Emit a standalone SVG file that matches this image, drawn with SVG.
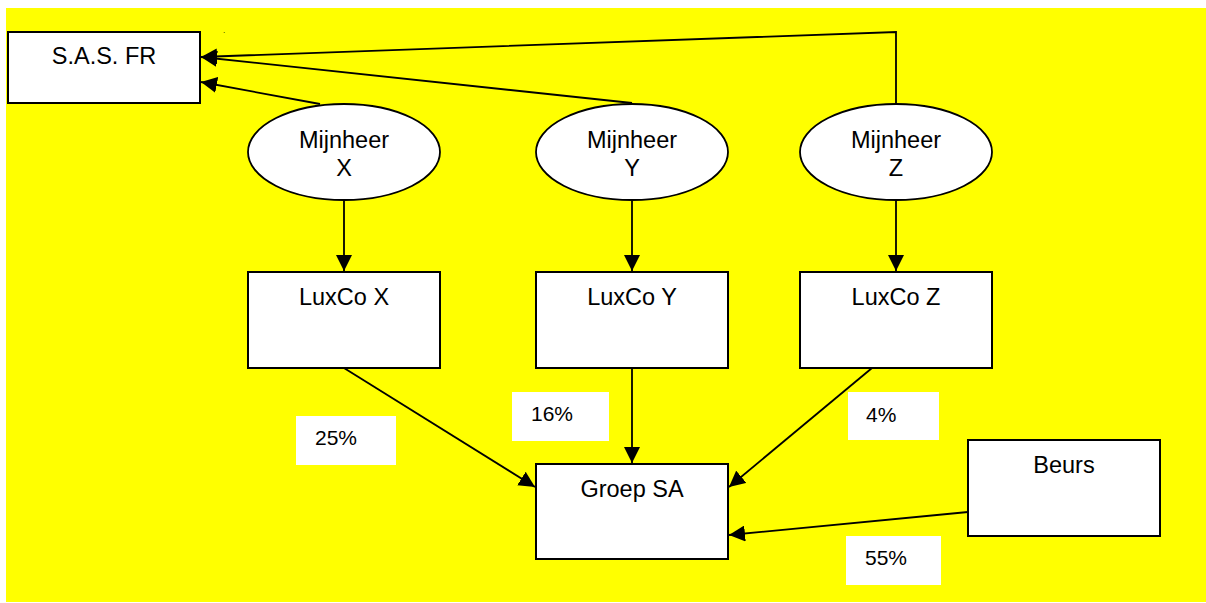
<svg xmlns="http://www.w3.org/2000/svg" width="1206" height="603" viewBox="0 0 1206 603">
  <style>
    .box { fill: #ffffff; stroke: #000000; stroke-width: 2; }
    .oval { fill: #ffffff; stroke: #000000; stroke-width: 1.8; }
    .lbl { font-family: "Liberation Sans", Arial, sans-serif; font-size: 23.5px; fill: #000000; text-anchor: middle; }
    .pct { font-family: "Liberation Sans", Arial, sans-serif; font-size: 21px; fill: #000000; }
    .pctbox { fill: #ffffff; stroke: none; }
    .link { fill: none; stroke: #000000; stroke-width: 1.8; marker-end: url(#arrow); }
  </style>
  <defs>
    <marker id="arrow" markerUnits="userSpaceOnUse" markerWidth="17" markerHeight="16" refX="16" refY="8" orient="auto">
      <path d="M0,0 L16,8 L0,16 Z" fill="#000000"/>
    </marker>
  </defs>

  <!-- page background -->
  <rect x="6" y="8" width="1200" height="594" fill="#ffff00"/>
  <text x="223" y="33" font-family="Liberation Sans, sans-serif" font-size="8" fill="#000000">.</text>

  <!-- connectors -->
  <g id="connectors">
    <path class="link" d="M320,104 L201,82"/>
    <path class="link" d="M632,103 L201,57"/>
    <path class="link" d="M896,103 L896,32 L201,57"/>
    <path class="link" d="M344,200 L344,271"/>
    <path class="link" d="M632,200 L632,271"/>
    <path class="link" d="M896,200 L896,271"/>
    <path class="link" d="M344,368 L535,487"/>
    <path class="link" d="M632,368 L632,463"/>
    <path class="link" d="M872,368 L729,487"/>
    <path class="link" d="M968,512 L729,535"/>
  </g>

  <g id="sas-fr">
    <rect class="box" x="8" y="32" width="192" height="71"/>
    <text class="lbl" x="104" y="64">S.A.S. FR</text>
  </g>

  <g id="mijnheer-x">
    <ellipse class="oval" cx="344" cy="152" rx="96" ry="48"/>
    <text class="lbl" x="344" y="148">Mijnheer</text>
    <text class="lbl" x="344" y="176">X</text>
  </g>
  <g id="mijnheer-y">
    <ellipse class="oval" cx="632" cy="152" rx="96" ry="48"/>
    <text class="lbl" x="632" y="148">Mijnheer</text>
    <text class="lbl" x="632" y="176">Y</text>
  </g>
  <g id="mijnheer-z">
    <ellipse class="oval" cx="896" cy="152" rx="96" ry="48"/>
    <text class="lbl" x="896" y="148">Mijnheer</text>
    <text class="lbl" x="896" y="176">Z</text>
  </g>

  <g id="luxco-x">
    <rect class="box" x="248" y="272" width="192" height="96"/>
    <text class="lbl" x="344" y="305">LuxCo X</text>
  </g>
  <g id="luxco-y">
    <rect class="box" x="536" y="272" width="192" height="96"/>
    <text class="lbl" x="632" y="305">LuxCo Y</text>
  </g>
  <g id="luxco-z">
    <rect class="box" x="800" y="272" width="192" height="96"/>
    <text class="lbl" x="896" y="305">LuxCo Z</text>
  </g>

  <g id="groep-sa">
    <rect class="box" x="536" y="464" width="192" height="95"/>
    <text class="lbl" x="632" y="497">Groep SA</text>
  </g>

  <g id="beurs">
    <rect class="box" x="968" y="440" width="192" height="96"/>
    <text class="lbl" x="1064" y="473">Beurs</text>
  </g>

  <!-- share percentages -->
  <g id="pct-25">
    <rect class="pctbox" x="296" y="416" width="100" height="49"/>
    <text class="pct" x="315" y="445">25%</text>
  </g>
  <g id="pct-16">
    <rect class="pctbox" x="512" y="392" width="97" height="49"/>
    <text class="pct" x="531" y="421">16%</text>
  </g>
  <g id="pct-4">
    <rect class="pctbox" x="848" y="392" width="91" height="48"/>
    <text class="pct" x="866" y="422">4%</text>
  </g>
  <g id="pct-55">
    <rect class="pctbox" x="846" y="536" width="95" height="49"/>
    <text class="pct" x="865" y="565">55%</text>
  </g>
</svg>
